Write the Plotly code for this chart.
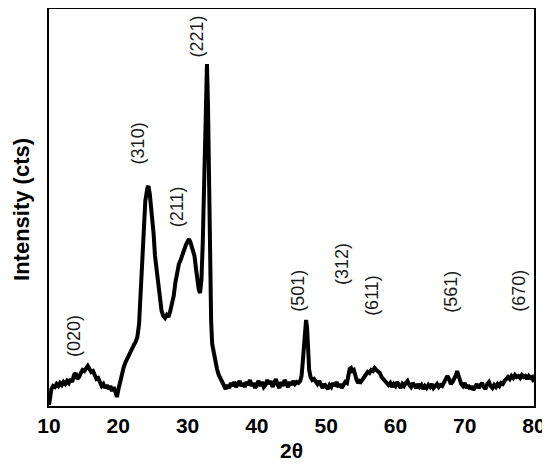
import plotly.graph_objects as go

# XRD pattern (2theta in degrees, intensity in arbitrary counts)
two_theta = [
    10.0, 10.15, 10.35, 10.6, 10.85, 11.1, 11.35, 11.6, 11.85, 12.1, 12.35, 12.6, 12.85,
    13.1, 13.35, 13.6, 13.85, 14.1, 14.35, 14.6, 14.85, 15.1, 15.35, 15.6, 15.85, 16.1,
    16.35, 16.6, 16.85, 17.1, 17.35, 17.6, 17.85, 18.1, 18.35, 18.6, 18.85, 19.1, 19.35,
    19.6, 19.8, 20.0, 20.25, 20.5, 20.75, 21.0, 21.25, 21.5, 21.75, 22.0, 22.25, 22.5,
    22.75, 23.0, 23.3, 23.6, 23.9, 24.2, 24.35, 24.55, 24.8, 25.1, 25.3, 25.5, 25.75,
    26.0, 26.25, 26.5, 26.75, 27.0, 27.25, 27.5, 27.75, 28.0, 28.25, 28.5, 28.75, 29.0,
    29.25, 29.5, 29.75, 30.0, 30.2, 30.4, 30.6, 30.8, 31.0, 31.2, 31.4, 31.6, 31.8, 32.0,
    32.2, 32.4, 32.6, 32.8, 32.95, 33.1, 33.25, 33.4, 33.55, 33.75, 34.0, 34.25, 34.5,
    34.75, 35.0, 35.25, 35.5, 35.75,
    36.0, 36.25, 36.5, 36.75, 37.0, 37.25, 37.5, 37.75, 38.0, 38.25, 38.5, 38.75, 39.0,
    39.25, 39.5, 39.75, 40.0, 40.25, 40.5, 40.75, 41.0, 41.25, 41.5, 41.75, 42.0, 42.25,
    42.5, 42.75, 43.0, 43.25, 43.5, 43.75, 44.0, 44.25, 44.5, 44.75, 45.0, 45.25, 45.5,
    45.75, 46.0, 46.25, 46.45, 46.6, 46.8, 46.95, 47.1, 47.25, 47.4, 47.55, 47.75, 48.0,
    48.25, 48.5, 48.75, 49.0, 49.25, 49.5, 49.75, 50.0, 50.25, 50.5, 50.75, 51.0, 51.25,
    51.5, 51.75, 52.0, 52.25, 52.5, 52.75, 53.0, 53.2, 53.4, 53.6, 53.8, 54.0, 54.2, 54.4,
    54.6, 54.8, 55.0, 55.25, 55.5, 55.75, 56.0, 56.25, 56.5, 56.75, 57.0, 57.25, 57.5,
    57.75, 58.0, 58.25, 58.5, 58.75, 59.0, 59.25, 59.5, 59.75, 60.0, 60.25, 60.5, 60.75,
    61.0, 61.25, 61.5, 61.75, 62.0, 62.25, 62.5, 62.75, 63.0, 63.25, 63.5, 63.75, 64.0,
    64.25, 64.5, 64.75, 65.0, 65.25, 65.5, 65.75, 66.0, 66.25, 66.5, 66.75, 67.0, 67.25,
    67.5, 67.75, 68.0, 68.25, 68.5, 68.75, 68.9, 69.1, 69.25, 69.5, 69.75, 70.0, 70.25,
    70.5, 70.75, 71.0, 71.25, 71.5, 71.75, 72.0, 72.25, 72.5, 72.75, 73.0, 73.25, 73.5,
    73.75, 74.0, 74.25, 74.5, 74.75, 75.0, 75.25, 75.5, 75.75, 76.0, 76.25, 76.5, 76.75,
    77.0, 77.25, 77.5, 77.75, 78.0, 78.25, 78.5, 78.75, 79.0, 79.25, 79.5, 79.75, 80.0,
]
intensity = [
    1, 12, 17, 20, 19, 22, 20, 23, 21, 24, 22, 25, 23,
    27, 24, 31, 33, 27, 29, 33, 36, 35, 38, 40, 37, 34,
    35, 30, 27, 28, 24, 20, 22, 18, 21, 17, 20, 15, 19,
    14, 9, 16, 24, 32, 38, 43, 47, 51, 54, 57, 61, 64,
    69, 82, 120, 172, 205, 218, 220, 212, 195, 172, 150, 138, 120,
    105, 95, 90, 88, 91, 89, 95, 102, 110, 124, 136, 142, 146,
    150, 156, 161, 165, 167, 164, 158, 155, 150, 138, 125, 117, 113, 126,
    165, 215, 285, 342, 300, 205, 140, 85, 62, 54, 44, 37, 31,
    27, 24, 21, 17, 21,
    18, 23, 20, 24, 19, 22, 25, 20, 23, 19, 24, 21, 26,
    20, 23, 18, 22, 25, 20, 24, 19, 21, 26, 22, 25, 19,
    23, 27, 21, 18, 24, 20, 26, 22, 19, 24, 21, 25, 22,
    24, 23, 25, 30, 42, 66, 82, 86, 78, 55, 36, 29, 26,
    27, 24, 22, 25, 20, 18, 22, 19, 17, 21, 19, 23, 20,
    24, 19, 22, 18, 21, 24, 23, 33, 37, 38, 35, 36, 30, 26,
    23, 25, 24, 27, 30, 32, 34, 33, 36, 35, 38, 36, 35,
    33, 29, 27, 24, 23, 21, 23, 19, 22, 20, 24, 21, 18,
    22, 20, 23, 25, 21, 19, 23, 20, 18, 22, 19, 21, 17,
    20, 18, 21, 19, 22, 18, 20, 22, 19, 21, 20, 23, 26,
    30, 27, 22, 24, 27, 31, 35, 30, 26, 22, 20, 23, 18,
    21, 17, 20, 16, 19, 22, 18, 21, 23, 19, 17, 22, 24,
    20, 18, 21, 19, 22, 20, 23, 22, 25, 27, 29, 27, 30,
    28, 31, 29, 30, 28, 31, 29, 30, 27, 30, 28, 29, 24,
]

# peak labels (Miller indices) and where they sit
hkl = ["(020)", "(310)", "(211)", "(221)", "(501)", "(312)", "(611)", "(561)", "(670)"]
label_x = [13.6, 22.9, 28.5, 31.3, 45.9, 52.3, 56.6, 68.0, 77.8]
label_y = [70, 263, 199, 369, 115, 142, 111, 114, 115]

fig = go.Figure()
fig.add_trace(go.Scatter(x=two_theta, y=intensity, mode="lines",
                         line=dict(color="black", width=4), showlegend=False))

for txt, lx, ly in zip(hkl, label_x, label_y):
    fig.add_annotation(x=lx, y=ly, text=txt, showarrow=False, textangle=-90,
                       font=dict(family="Liberation Sans, Arial", size=18, color="#1a1a1a"))

# axis titles placed as paper annotations so the margins stay fixed
fig.add_annotation(xref="paper", yref="paper", x=0.501, y=-0.113, text="2θ",
                   showarrow=False, xanchor="center", yanchor="middle",
                   font=dict(family="Liberation Sans, Arial", size=21, weight="bold", color="black"))
fig.add_annotation(xref="paper", yref="paper", x=-0.058, y=0.496, text="Intensity (cts)",
                   showarrow=False, textangle=-90, xanchor="center", yanchor="middle",
                   font=dict(family="Liberation Sans, Arial", size=22, weight="bold", color="black"))

# the page body adds an 8px offset, so the figure is 8px smaller than the window
fig.update_layout(
    width=542, height=460,
    margin=dict(l=41, r=16, t=1, b=62, autoexpand=False),
    plot_bgcolor="white", paper_bgcolor="white",
    font=dict(family="Liberation Sans, Arial", color="black"),
)
fig.update_xaxes(range=[10, 80], dtick=10, showgrid=False, zeroline=False, automargin=False,
                 showline=True, mirror=True, linecolor="black", linewidth=2, ticks="",
                 tickfont=dict(size=21, weight="bold"))
fig.update_yaxes(range=[0, 397], showgrid=False, zeroline=False, showticklabels=False,
                 automargin=False,
                 showline=True, mirror=True, linecolor="black", linewidth=2, ticks="")

fig.write_html("out.html")
